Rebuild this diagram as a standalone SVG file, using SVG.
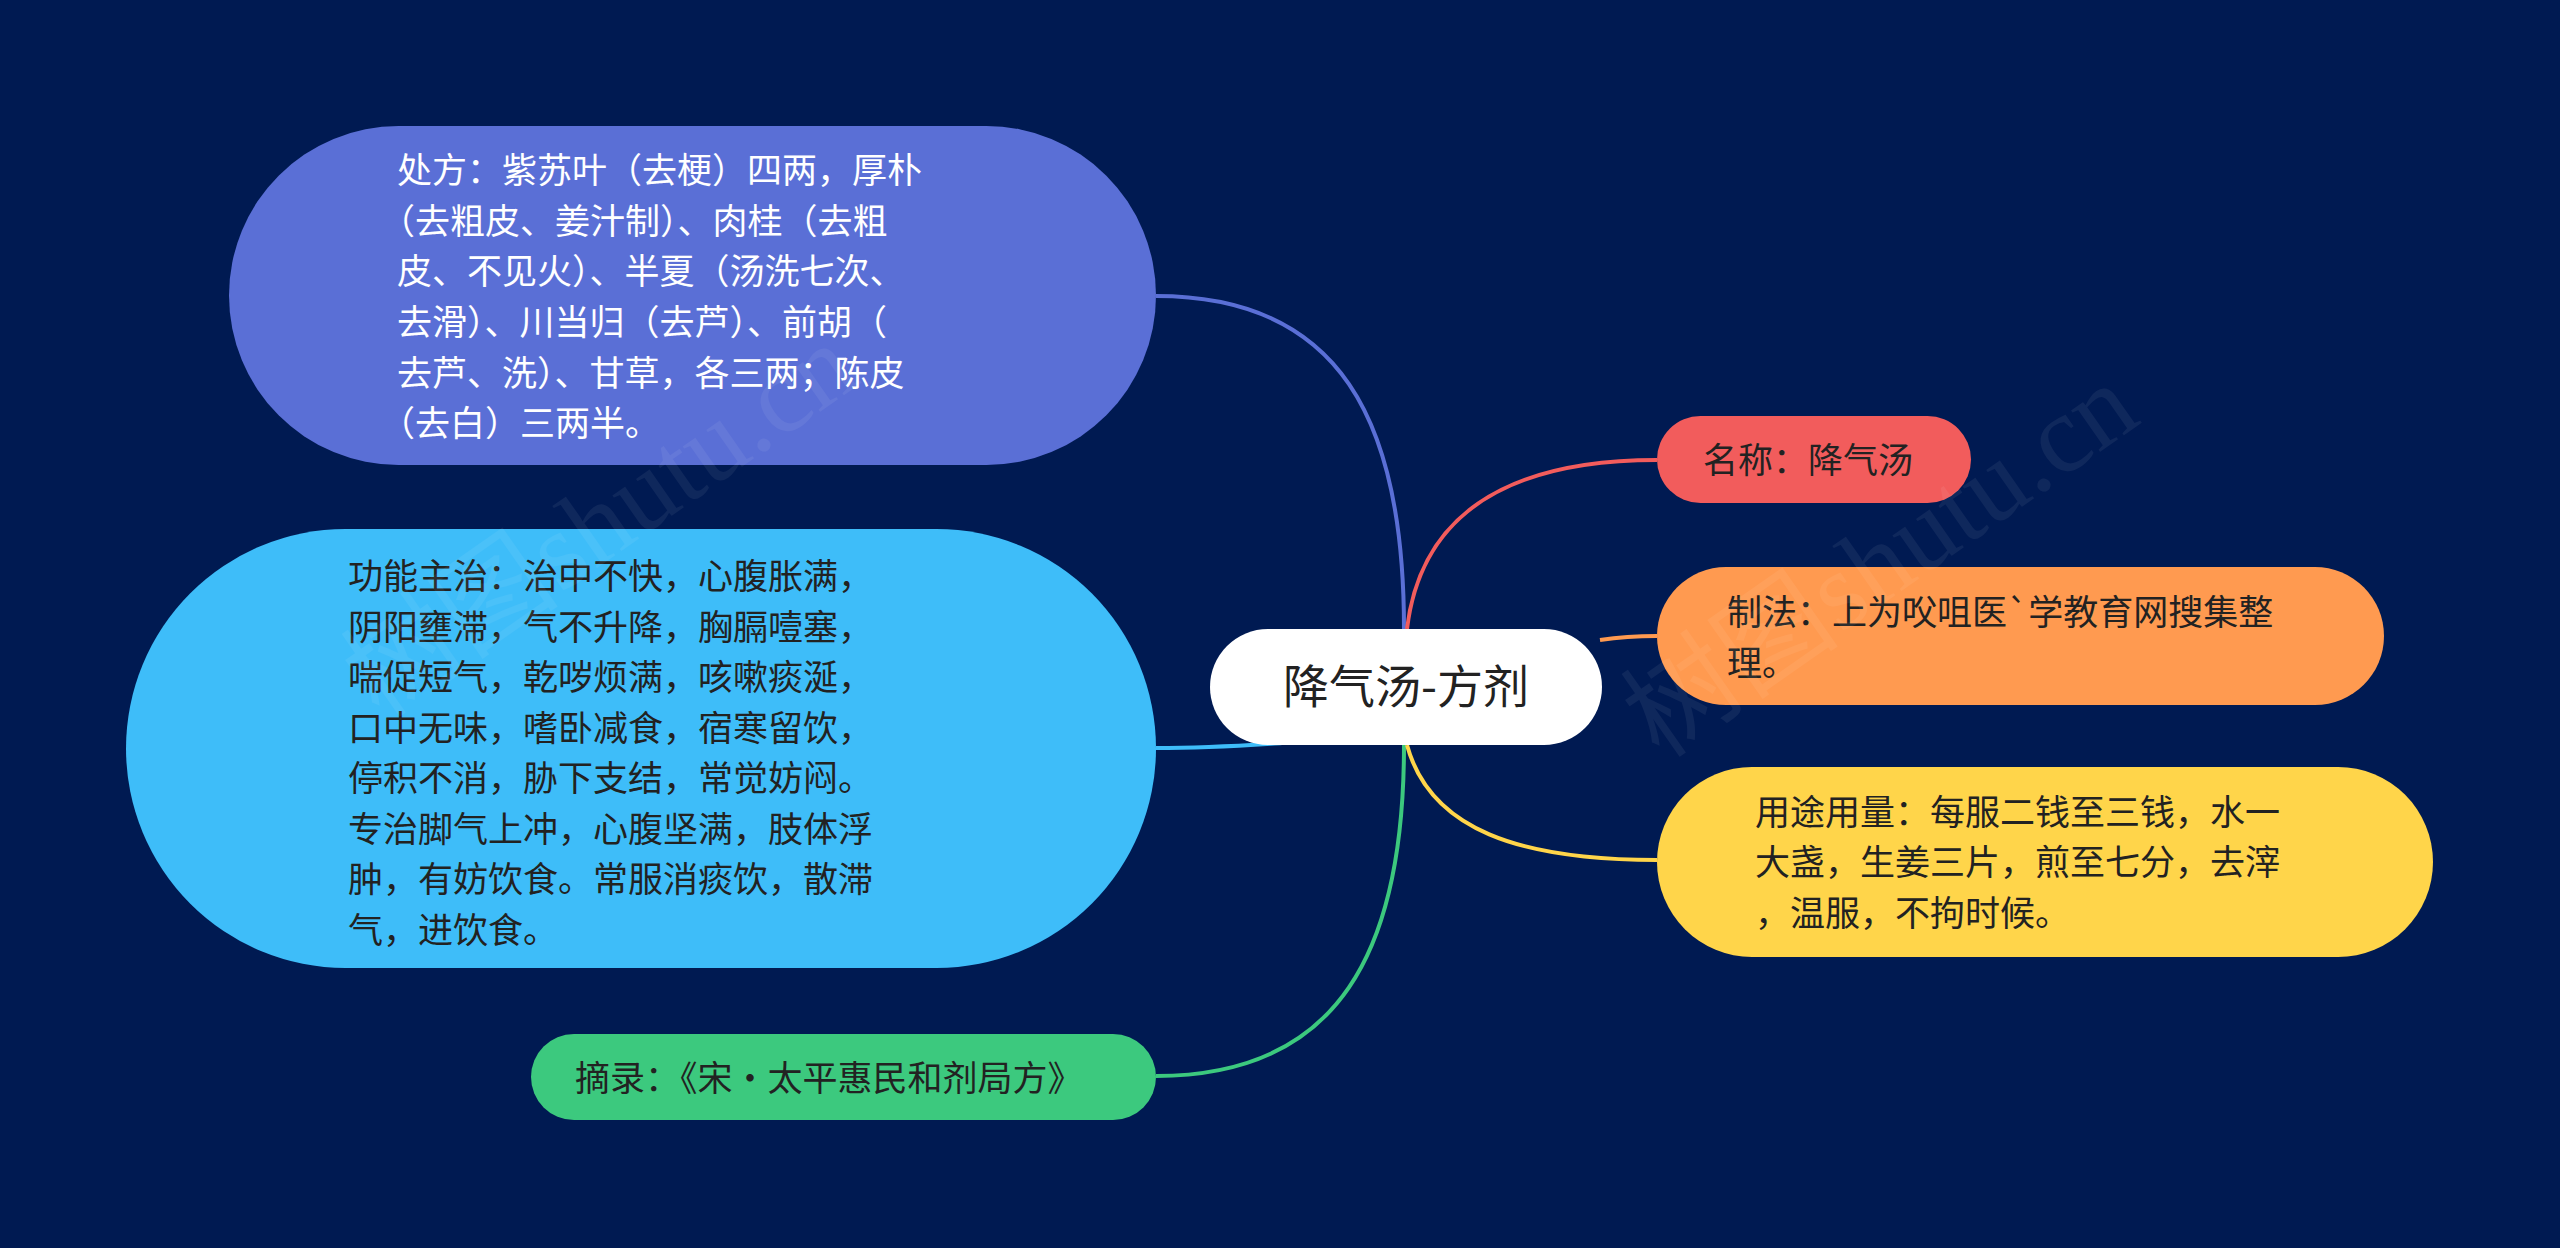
<svg xmlns="http://www.w3.org/2000/svg" width="2560" height="1248" viewBox="0 0 2560 1248">
<style>
.t{font-family:"Noto Sans CJK SC","Noto Sans",sans-serif;font-size:35px}
.w{fill:#ffffff}.d{fill:#222222}
.c{fill:none;stroke-width:4}
.wm{font-family:"Liberation Serif","Noto Sans CJK SC",serif;font-size:110px;fill:#ffffff;opacity:0.06}
</style>
<rect width="2560" height="1248" fill="#001A52"/>
<g id="connectors">
<path class="c" stroke="#5A6FD6" d="M1156,296 C1340,296 1404,420 1404,629"/>
<path class="c" stroke="#3EBDF9" d="M1156,748 C1210,748 1250,745 1282,743"/>
<path class="c" stroke="#3CC97E" d="M1156,1076 C1340,1076 1404,950 1404,745"/>
<path class="c" stroke="#F25C5C" d="M1407,629 C1420,520 1500,460 1657,460"/>
<path class="c" stroke="#FF9A50" d="M1600,640 C1620,637 1640,636 1657,636"/>
<path class="c" stroke="#FFD54A" d="M1407,745 C1430,830 1520,860 1657,860"/>
</g>
<g id="n1">
<rect x="229" y="126" width="927" height="339" rx="169.5" fill="#5A6FD6"/>
<text class="t w"><tspan x="397" y="183">处方：紫苏叶（去梗）四两，厚朴</tspan><tspan x="380" y="234">（去粗皮、姜汁制）、肉桂（去粗</tspan><tspan x="397" y="284">皮、不见火）、半夏（汤洗七次、</tspan><tspan x="397" y="335">去滑）、川当归（去芦）、前胡（</tspan><tspan x="397" y="386">去芦、洗）、甘草，各三两；陈皮</tspan><tspan x="380" y="436">（去白）三两半。</tspan></text>
</g>
<g id="n2">
<rect x="126" y="529" width="1030" height="439" rx="219.5" fill="#3EBDF9"/>
<text class="t d"><tspan x="348" y="589">功能主治：治中不快，心腹胀满，</tspan><tspan x="348" y="640">阴阳壅滞，气不升降，胸膈噎塞，</tspan><tspan x="348" y="690">喘促短气，乾哕烦满，咳嗽痰涎，</tspan><tspan x="348" y="741">口中无味，嗜卧减食，宿寒留饮，</tspan><tspan x="348" y="791">停积不消，胁下支结，常觉妨闷。</tspan><tspan x="348" y="842">专治脚气上冲，心腹坚满，肢体浮</tspan><tspan x="348" y="892">肿，有妨饮食。常服消痰饮，散滞</tspan><tspan x="348" y="943">气，进饮食。</tspan></text>
</g>
<g id="n3">
<rect x="531" y="1034" width="625" height="86" rx="43" fill="#3CC97E"/>
<text class="t d" x="575" y="1091">摘录：《宋·太平惠民和剂局方》</text>
</g>
<g id="center">
<rect x="1210" y="629" width="392" height="116" rx="58" fill="#ffffff"/>
<text class="t d" x="1406" y="703" font-size="46" text-anchor="middle" style="font-size:46px">降气汤-方剂</text>
</g>
<g id="r1">
<rect x="1657" y="416" width="314" height="87" rx="43.5" fill="#F25C5C"/>
<text class="t d" x="1703" y="473">名称：降气汤</text>
</g>
<g id="r2">
<rect x="1657" y="567" width="727" height="138" rx="69" fill="#FF9A50"/>
<text class="t d"><tspan x="1727" y="625">制法：上为㕮咀医`学教育网搜集整</tspan><tspan x="1727" y="676">理。</tspan></text>
</g>
<g id="r3">
<rect x="1657" y="767" width="776" height="190" rx="95" fill="#FFD54A"/>
<text class="t d"><tspan x="1755" y="825">用途用量：每服二钱至三钱，水一</tspan><tspan x="1755" y="875">大盏，生姜三片，煎至七分，去滓</tspan><tspan x="1755" y="926">，温服，不拘时候。</tspan></text>
</g>
<text class="wm" transform="translate(380,720) rotate(-35)">树图shutu.cn</text>
<text class="wm" transform="translate(1660,760) rotate(-35)">树图shutu.cn</text>
</svg>
